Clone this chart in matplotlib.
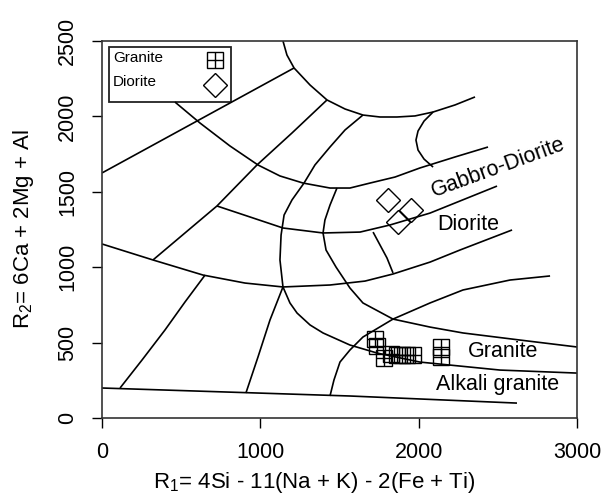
# R1-R2 classification diagram (De la Roche) - granite / diorite samples
import numpy as np
import matplotlib.pyplot as plt
from matplotlib.patches import Rectangle

plt.rcParams['font.family'] = ['Liberation Sans', 'DejaVu Sans']
plt.rcParams['mathtext.default'] = 'regular'

# sample points
granite_r1 = [1724, 1737, 1781, 1825, 1863, 1895, 1927, 1964, 2141, 2141]
granite_r2 = [524, 477, 398, 424, 418, 418, 418, 418, 471, 405]
diorite_r1 = [1806, 1952, 1870]
diorite_r2 = [1446, 1379, 1300]

# field boundaries (R1, R2)
bnd_top_line = [(0, 1625), (1213, 2321)]
bnd_arc = [(1143, 2500), (1168, 2407), (1213, 2321), (1314, 2208), (1421, 2109),
           (1535, 2049), (1648, 2009), (1756, 1996), (1863, 1996), (1977, 2003),
           (2091, 2029), (2230, 2076), (2356, 2129)]
bnd_s = [(2091, 2029), (2034, 1969), (1996, 1903), (1983, 1843), (1996, 1777),
         (2034, 1717), (2091, 1664)]
bnd_gabbro = [(461, 2095), (619, 1956), (808, 1804), (985, 1678), (1124, 1605),
              (1270, 1558), (1440, 1525), (1566, 1525), (1693, 1558), (1851, 1598),
              (2008, 1658), (2230, 1731), (2438, 1797)]
bnd_radial1 = [(1421, 2109), (1200, 1890), (979, 1678), (726, 1406), (524, 1227),
               (322, 1048)]
bnd_diorite = [(726, 1406), (935, 1333), (1143, 1260), (1396, 1227), (1630, 1233),
               (1819, 1280), (2072, 1359), (2495, 1538)]
bnd_1000 = [(0, 1154), (322, 1048), (638, 948), (903, 895), (1143, 869), (1440, 882),
            (1661, 908), (1838, 955), (2072, 1034), (2261, 1114), (2590, 1247)]
bnd_radial2 = [(651, 948), (524, 769), (398, 584), (253, 385), (114, 199)]
bnd_radial3 = [(1143, 869), (1061, 650), (985, 404), (909, 166)]
bnd_vert = [(1648, 2009), (1535, 1910), (1440, 1797), (1345, 1678), (1276, 1558),
            (1200, 1446), (1150, 1346), (1131, 1213), (1124, 1048), (1143, 869)]
bnd_alkali = [(1143, 869), (1187, 763), (1232, 696), (1314, 617), (1396, 564),
              (1566, 484), (1737, 431), (2008, 371), (2514, 318), (3000, 298)]
bnd_granite = [(1484, 1525), (1440, 1412), (1408, 1313), (1396, 1227), (1415, 1114),
               (1478, 1001), (1566, 862), (1648, 763), (1838, 656), (2072, 603),
               (2280, 564), (2640, 517), (3000, 471)]
bnd_rising = [(1440, 146), (1465, 252), (1503, 371), (1566, 451), (1648, 537),
              (1838, 656), (2072, 763), (2280, 849), (2577, 915), (2830, 942)]
bnd_short = [(1712, 1233), (1756, 1147), (1800, 1061), (1838, 962)]
bnd_bottom = [(0, 199), (1566, 146), (2621, 99)]

boundaries = [bnd_top_line, bnd_arc, bnd_s, bnd_gabbro, bnd_radial1, bnd_diorite,
              bnd_1000, bnd_radial2, bnd_radial3, bnd_vert, bnd_alkali, bnd_granite,
              bnd_rising, bnd_short, bnd_bottom]

field_names = ['Gabbro-Diorite', 'Diorite', 'Granite', 'Alkali granite']
field_r1 = [2501, 2312, 2533, 2501]
field_r2 = [1658, 1280, 438, 219]
field_rot = [20, 0, 0, 0]

fig = plt.figure(figsize=(6.05, 4.98), dpi=100)
ax = fig.add_axes([0.1686, 0.1606, 0.7851, 0.7571])

for b in boundaries:
    xy = np.array(b)
    ax.plot(xy[:, 0], xy[:, 1], color='black', lw=1.2, solid_capstyle='butt')

ax.plot(granite_r1, granite_r2, 's', ms=12, mfc='none', mec='black', mew=1.0)
ax.plot(granite_r1, granite_r2, '+', ms=12, color='black', mew=1.0)
ax.plot(diorite_r1, diorite_r2, 'D', ms=12.5, mfc='none', mec='black', mew=1.0)

for name, x, y, r in zip(field_names, field_r1, field_r2, field_rot):
    ax.text(x, y, name, fontsize=15.5, ha='center', va='center', rotation=r)

ax.set_xlim(0, 3000)
ax.set_ylim(0, 2500)
ax.set_xticks([0, 1000, 2000, 3000])
ax.set_yticks([0, 500, 1000, 1500, 2000, 2500])
ax.tick_params(direction='out', length=7.2, width=1.0, labelsize=15.5, pad=10)
for lab in ax.get_yticklabels():
    lab.set_rotation(90)
    lab.set_va('center')
for s in ax.spines.values():
    s.set_linewidth(1.2)
    s.set_color('#333333')

ax.set_xlabel('R$_1$= 4Si - 11(Na + K) - 2(Fe + Ti)', fontsize=16)
ax.xaxis.set_label_coords(0.446, -0.138)
ax.set_ylabel('R$_2$= 6Ca + 2Mg + Al', fontsize=16)
ax.yaxis.set_label_coords(-0.138, 0.5)

# legend box in R style: label on the left, symbol on the right
ax.add_patch(Rectangle((0.0147, 0.8382), 0.2569, 0.1459, transform=ax.transAxes,
                       fill=False, edgecolor='#222222', lw=1.3, clip_on=False))
ax.text(0.0232, 0.955, 'Granite', transform=ax.transAxes, fontsize=11, va='center')
ax.text(0.0232, 0.892, 'Diorite', transform=ax.transAxes, fontsize=11, va='center')
ax.plot([0.238], [0.950], 's', ms=12, mfc='none', mec='black', mew=1.0,
        transform=ax.transAxes, clip_on=False)
ax.plot([0.238], [0.950], '+', ms=12, color='black', mew=1.0,
        transform=ax.transAxes, clip_on=False)
ax.plot([0.238], [0.883], 'D', ms=12.5, mfc='none', mec='black', mew=1.0,
        transform=ax.transAxes, clip_on=False)

fig.savefig('out.png', dpi=100)
